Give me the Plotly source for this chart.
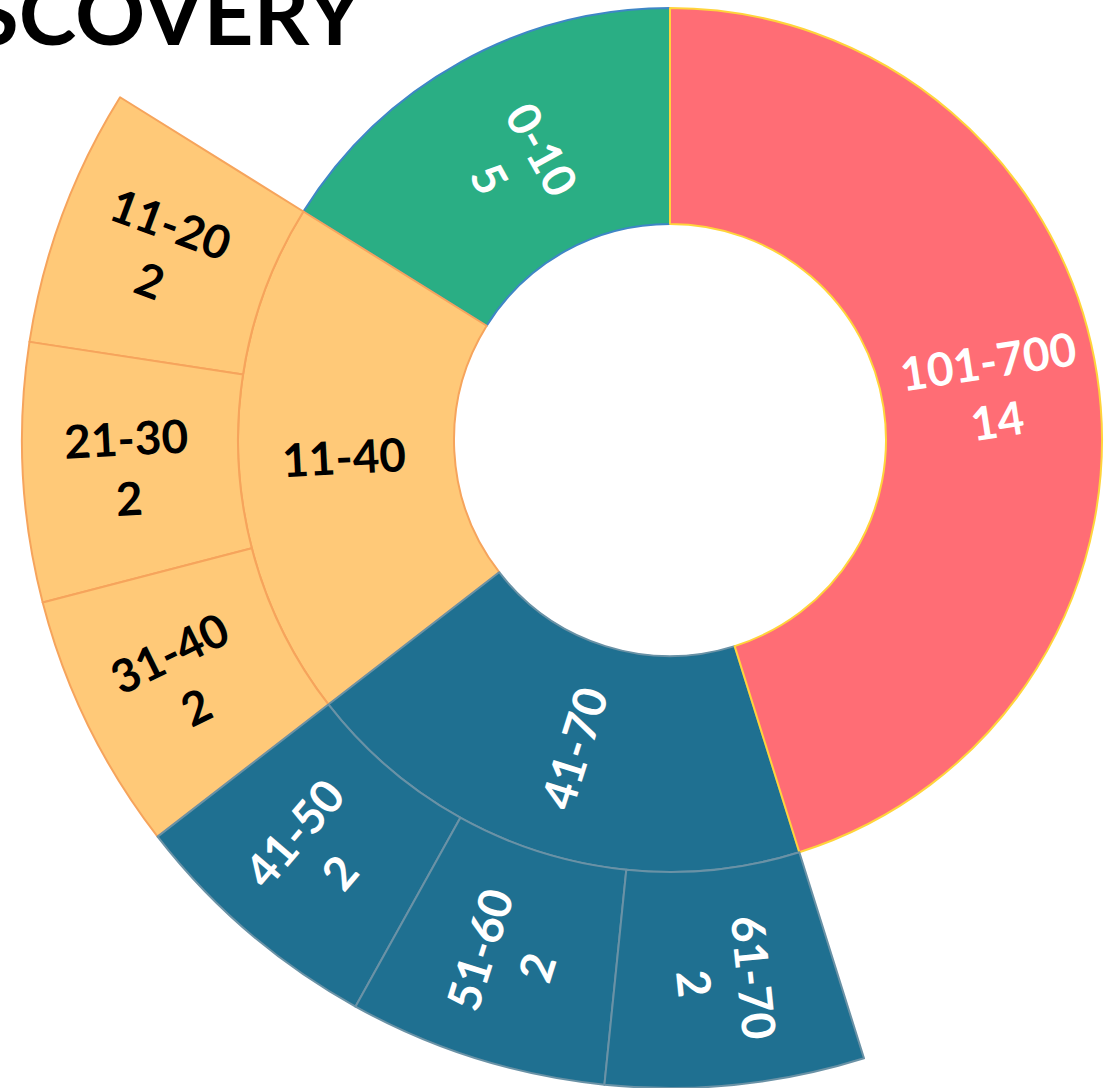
import math
import plotly.graph_objects as go

# ---- data ----
ids = ["root", "0-10", "11-40", "41-70", "101-700",
       "11-20", "21-30", "31-40", "41-50", "51-60", "61-70"]
labels = ["", "0-10", "11-40", "41-70", "101-700",
          "11-20", "21-30", "31-40", "41-50", "51-60", "61-70"]
parents = ["", "root", "root", "root", "root",
           "11-40", "11-40", "11-40", "41-70", "41-70", "41-70"]
values = [31, 5, 6, 6, 14, 2, 2, 2, 2, 2, 2]
texts = ["", "0-10<br>5", "11-40", "41-70", "101-700<br>14",
         "11-20<br>2", "21-30<br>2", "31-40<br>2", "41-50<br>2", "51-60<br>2", "61-70<br>2"]

GREEN, YELLOW, BLUE, RED = "#2AAE84", "#FFC978", "#1F7091", "#FF6D75"
fill_colors = ["#FFFFFF", GREEN, YELLOW, BLUE, RED,
               YELLOW, YELLOW, YELLOW, BLUE, BLUE, BLUE]
line_colors = ["#FFFFFF", "#3E86C6", "#F6A45C", "#6A92A6", "#FFD43B",
               "#F6A45C", "#F6A45C", "#F6A45C", "#6A92A6", "#6A92A6", "#6A92A6"]
text_colors = ["#FFFFFF", "#FFFFFF", "#000000", "#FFFFFF", "#FFFFFF",
               "#000000", "#000000", "#000000", "#FFFFFF", "#FFFFFF", "#FFFFFF"]

W, H = 1340, 1296
LABEL_SIZE = 46
ROTATION = 90
R = min(W, H) / 2.0
r_mid = 1.5 * R / 3.0 + 2
total = values[0]

sun_texts = list(texts)
# invisible (white on white) spacer in the centre disc: it sets the common
# text size used by uniformtext
sun_texts[0] = "\u2002" * 18 + "\u00a0"

# first-ring slices that straddle the horizontal axis get their label drawn
# radially at the slice's mid-angle (as in the reference)
mid_labels = []
top_ids = [i for i in ids if parents[ids.index(i)] == "root"]
cum = 0
for tid in top_ids:
    k = ids.index(tid)
    start = ROTATION + 360.0 * cum / total
    end = ROTATION + 360.0 * (cum + values[k]) / total
    cum += values[k]
    crosses = any(start < m < end for m in (180, 360, 540))
    if crosses:
        mid = (start + end) / 2.0
        mid_labels.append((k, mid))
        sun_texts[k] = "\u00a0"

fig = go.Figure(go.Sunburst(
    ids=ids, labels=labels, parents=parents, values=values,
    branchvalues="total", sort=False, rotation=ROTATION,
    text=sun_texts, textinfo="text", hoverinfo="label+value",
    marker=dict(colors=fill_colors, line=dict(color=line_colors, width=2)),
    leaf=dict(opacity=1),
    insidetextorientation="radial",
    insidetextfont=dict(family="Lato", size=90, color=text_colors, weight="bold"),
    domain=dict(x=[0, 1], y=[0, 1]),
))

for k, mid in mid_labels:
    a = math.radians(mid)
    ang = mid % 360
    if math.cos(a) >= 0:
        tangle = -(ang if ang <= 90 else ang - 360)
    else:
        tangle = -(ang - 180)
    fig.add_annotation(
        text=texts[k], xref="paper", yref="paper",
        x=0.5 + r_mid * math.cos(a) / W, y=0.5 + r_mid * math.sin(a) / H,
        xanchor="center", yanchor="middle", textangle=tangle,
        showarrow=False, align="center",
        font=dict(family="Lato", size=LABEL_SIZE, color=text_colors[k], weight="bold"),
    )

fig.add_annotation(
    text="DISCOVERY", xref="paper", yref="paper",
    x=366 / W, y=1 - 220 / H, xanchor="right", yanchor="middle",
    showarrow=False, font=dict(family="Lato", size=87, color="#000000", weight="bold"),
)

fig.update_layout(
    width=W, height=H, margin=dict(l=0, r=0, t=0, b=0),
    paper_bgcolor="white", showlegend=False,
    uniformtext=dict(mode="show", minsize=1),
)

post = """
document.body.style.margin='0';
document.body.style.overflow='hidden';
document.documentElement.style.overflow='hidden';
var d=document.getElementById('{plot_id}');
d.style.marginTop='-208px';
"""
fig.write_html("out.html", post_script=post)
